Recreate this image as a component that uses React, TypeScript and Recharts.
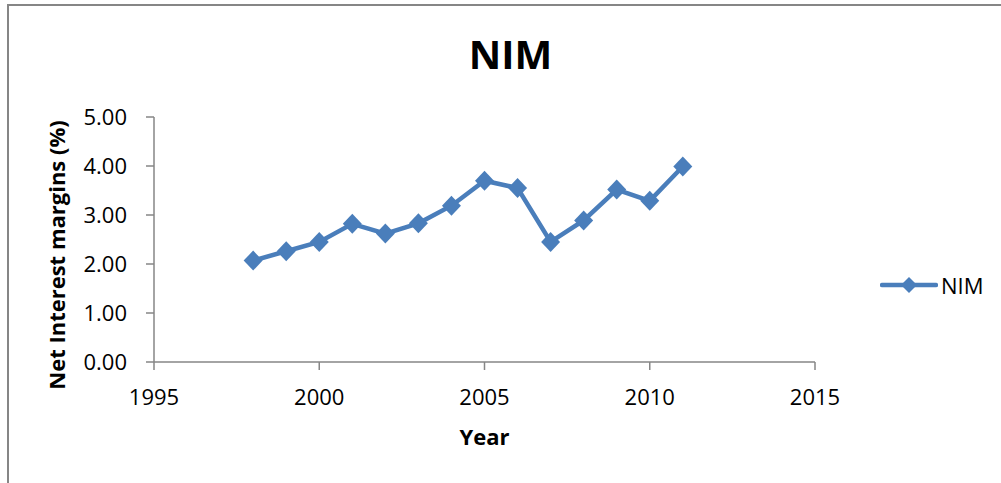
import React from 'react';
import { LineChart, Line, XAxis, YAxis } from 'recharts';

const years = [1998, 1999, 2000, 2001, 2002, 2003, 2004, 2005, 2006, 2007, 2008, 2009, 2010, 2011];
const nimValues = [2.07, 2.26, 2.45, 2.82, 2.62, 2.83, 3.19, 3.7, 3.55, 2.45, 2.89, 3.52, 3.29, 3.99];
const xTicks = [1995, 2000, 2005, 2010, 2015];
const yTicks = [0, 1, 2, 3, 4, 5];

const data = years.map((year, i) => ({ year, NIM: nimValues[i] }));

const BLUE = '#4A7EBB';
const AXIS = '#868686';
const FONT = '"Open Sans", sans-serif';

const Diamond = ({ cx, cy, index }: any) => (
  <path
    key={`d-${index}`}
    d={`M${cx},${cy - 10} L${cx + 9.5},${cy} L${cx},${cy + 10} L${cx - 9.5},${cy} Z`}
    fill={BLUE}
  />
);

const YLabel = () => (
  <text
    x={65}
    y={255}
    transform="rotate(-90 65 255)"
    textAnchor="middle"
    fontFamily={FONT}
    fontWeight="bold"
    fontSize={22}
    fill="#000"
  >
    Net Interest margins (%)
  </text>
);

export default function App() {
  return (
    <div style={{ position: 'absolute', left: 0, top: 0, width: 1001, height: 483, background: '#fff', fontFamily: FONT }}>
      <div
        style={{
          position: 'absolute',
          left: 7,
          top: 4,
          width: 994,
          height: 479,
          borderTop: `2px solid ${AXIS}`,
          borderLeft: `2px solid ${AXIS}`,
          boxSizing: 'border-box',
        }}
      />
      <div
        style={{
          position: 'absolute',
          left: 510.5,
          top: 34,
          transform: 'translateX(-50%)',
          fontSize: 40,
          lineHeight: '40px',
          fontWeight: 'bold',
          color: '#000',
          whiteSpace: 'nowrap',
        }}
      >
        NIM
      </div>
      <div style={{ position: 'absolute', left: 0, top: 0 }}>
        <LineChart width={1001} height={483} data={data} margin={{ top: 117, right: 186, bottom: 0, left: 0 }}>
          <XAxis
            type="number"
            dataKey="year"
            domain={[1995, 2015]}
            ticks={xTicks}
            height={121}
            stroke={AXIS}
            strokeWidth={1.5}
            tickSize={8}
            tickMargin={19}
            tick={{ fill: '#000', fontSize: 22, fontFamily: FONT }}
            label={{ value: 'Year', position: 'insideBottom', offset: 38, fill: '#000', fontSize: 22, fontWeight: 'bold', fontFamily: FONT }}
          />
          <YAxis
            type="number"
            domain={[0, 5]}
            ticks={yTicks}
            width={154}
            stroke={AXIS}
            strokeWidth={1.5}
            tickSize={8}
            tickMargin={19}
            tickFormatter={(v: number) => v.toFixed(2)}
            tick={{ fill: '#000', fontSize: 22, fontFamily: FONT }}
            label={{ content: () => <YLabel /> }}
          />
          <Line
            type="linear"
            dataKey="NIM"
            stroke={BLUE}
            strokeWidth={4.5}
            dot={Diamond}
            activeDot={false}
            isAnimationActive={false}
          />
        </LineChart>
      </div>
      <div style={{ position: 'absolute', left: 880, top: 271, display: 'flex', alignItems: 'flex-start' }}>
        <svg width={58} height={28} style={{ display: 'block' }}>
          <line x1={2} y1={14} x2={56} y2={14} stroke={BLUE} strokeWidth={4.5} strokeLinecap="round" />
          <path d="M29,6 L37,14 L29,22 L21,14 Z" fill={BLUE} />
        </svg>
        <div style={{ fontSize: 22, lineHeight: '28px', color: '#000', marginLeft: 3 }}>NIM</div>
      </div>
    </div>
  );
}
